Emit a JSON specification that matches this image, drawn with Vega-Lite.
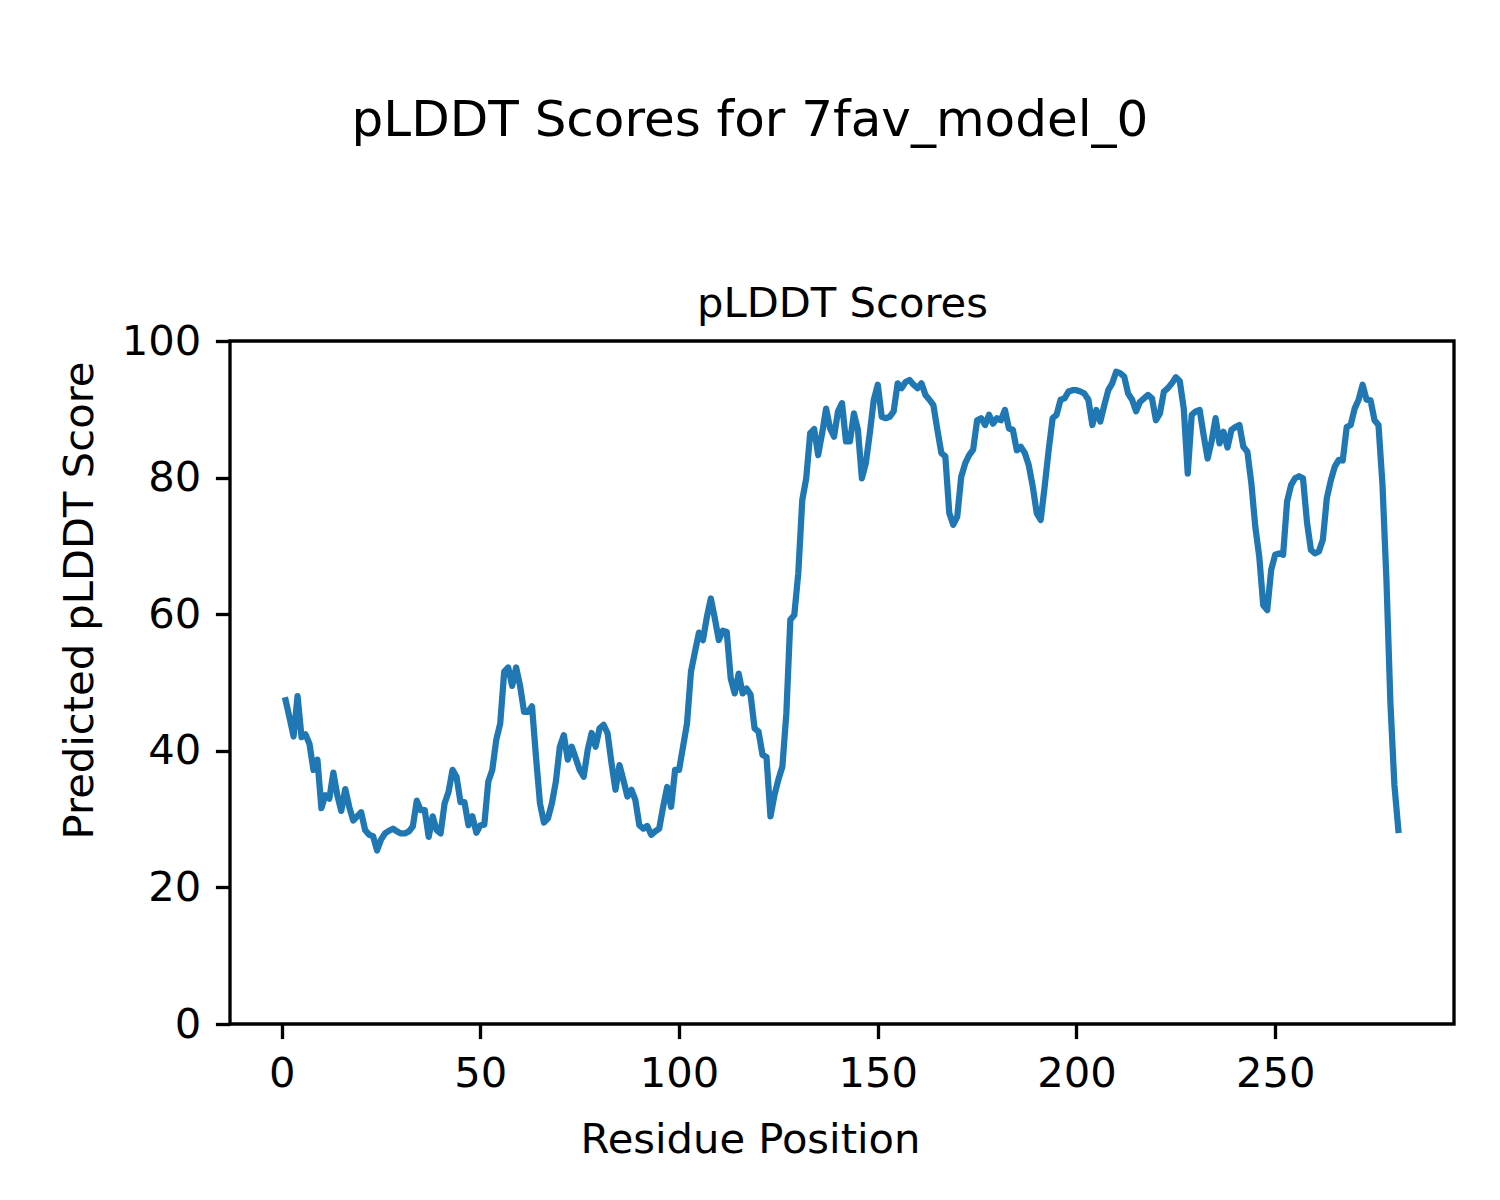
{
  "$schema": "https://vega.github.io/schema/vega-lite/v6.json",
  "width": 1224,
  "height": 683,
  "autosize": {"type": "none"},
  "padding": {"left": 230, "top": 341, "right": 46, "bottom": 176},
  "background": "white",
  "config": {
    "font": "DejaVu Sans",
    "view": {"stroke": "black", "strokeWidth": 3.33},
    "axis": {
      "grid": false,
      "domain": false,
      "labelFont": "DejaVu Sans",
      "labelFontSize": 41.67,
      "labelColor": "black",
      "tickColor": "black",
      "tickWidth": 3.33,
      "tickSize": 14.6,
      "labelPadding": 14.6,
      "titleFont": "DejaVu Sans",
      "titleFontSize": 41.67,
      "titleFontWeight": "normal",
      "titleColor": "black",
      "titleBaseline": "alphabetic",
      "titleAlign": "center"
    }
  },
  "title": {
    "text": "pLDDT Scores for 7fav_model_0",
    "anchor": "middle",
    "dx": -92,
    "fontSize": 50,
    "fontWeight": "normal",
    "font": "DejaVu Sans",
    "color": "black",
    "baseline": "alphabetic",
    "offset": 97
  },
  "data": {
    "values": [
      {"residue": 1, "plddt": 47.4}, {"residue": 2, "plddt": 44.8}, {"residue": 3, "plddt": 42.1}, {"residue": 4, "plddt": 48.0}, {"residue": 5, "plddt": 42.0},
      {"residue": 6, "plddt": 42.4}, {"residue": 7, "plddt": 41.0}, {"residue": 8, "plddt": 37.2}, {"residue": 9, "plddt": 38.7}, {"residue": 10, "plddt": 31.6},
      {"residue": 11, "plddt": 33.5}, {"residue": 12, "plddt": 33.0}, {"residue": 13, "plddt": 36.8}, {"residue": 14, "plddt": 33.5}, {"residue": 15, "plddt": 31.2},
      {"residue": 16, "plddt": 34.4}, {"residue": 17, "plddt": 31.8}, {"residue": 18, "plddt": 29.8}, {"residue": 19, "plddt": 30.4}, {"residue": 20, "plddt": 31.0},
      {"residue": 21, "plddt": 28.4}, {"residue": 22, "plddt": 27.7}, {"residue": 23, "plddt": 27.5}, {"residue": 24, "plddt": 25.4}, {"residue": 25, "plddt": 27.0},
      {"residue": 26, "plddt": 27.9}, {"residue": 27, "plddt": 28.3}, {"residue": 28, "plddt": 28.6}, {"residue": 29, "plddt": 28.2}, {"residue": 30, "plddt": 27.9},
      {"residue": 31, "plddt": 27.9}, {"residue": 32, "plddt": 28.2}, {"residue": 33, "plddt": 28.9}, {"residue": 34, "plddt": 32.7}, {"residue": 35, "plddt": 31.3},
      {"residue": 36, "plddt": 31.3}, {"residue": 37, "plddt": 27.4}, {"residue": 38, "plddt": 30.4}, {"residue": 39, "plddt": 28.4}, {"residue": 40, "plddt": 27.9},
      {"residue": 41, "plddt": 32.3}, {"residue": 42, "plddt": 34.0}, {"residue": 43, "plddt": 37.2}, {"residue": 44, "plddt": 36.2}, {"residue": 45, "plddt": 32.5},
      {"residue": 46, "plddt": 32.5}, {"residue": 47, "plddt": 29.1}, {"residue": 48, "plddt": 30.4}, {"residue": 49, "plddt": 28.0}, {"residue": 50, "plddt": 29.1},
      {"residue": 51, "plddt": 29.2}, {"residue": 52, "plddt": 35.5}, {"residue": 53, "plddt": 37.2}, {"residue": 54, "plddt": 41.6}, {"residue": 55, "plddt": 44.0},
      {"residue": 56, "plddt": 51.6}, {"residue": 57, "plddt": 52.2}, {"residue": 58, "plddt": 49.5}, {"residue": 59, "plddt": 52.2}, {"residue": 60, "plddt": 49.5},
      {"residue": 61, "plddt": 45.7}, {"residue": 62, "plddt": 45.7}, {"residue": 63, "plddt": 46.5}, {"residue": 64, "plddt": 39.1}, {"residue": 65, "plddt": 32.3},
      {"residue": 66, "plddt": 29.5}, {"residue": 67, "plddt": 30.1}, {"residue": 68, "plddt": 32.3}, {"residue": 69, "plddt": 35.5}, {"residue": 70, "plddt": 40.6},
      {"residue": 71, "plddt": 42.3}, {"residue": 72, "plddt": 38.7}, {"residue": 73, "plddt": 40.6}, {"residue": 74, "plddt": 38.9}, {"residue": 75, "plddt": 37.2},
      {"residue": 76, "plddt": 36.2}, {"residue": 77, "plddt": 40.1}, {"residue": 78, "plddt": 42.6}, {"residue": 79, "plddt": 40.6}, {"residue": 80, "plddt": 43.3},
      {"residue": 81, "plddt": 43.8}, {"residue": 82, "plddt": 42.6}, {"residue": 83, "plddt": 38.2}, {"residue": 84, "plddt": 34.3}, {"residue": 85, "plddt": 37.9},
      {"residue": 86, "plddt": 35.7}, {"residue": 87, "plddt": 33.3}, {"residue": 88, "plddt": 34.3}, {"residue": 89, "plddt": 32.8}, {"residue": 90, "plddt": 29.1},
      {"residue": 91, "plddt": 28.6}, {"residue": 92, "plddt": 29.0}, {"residue": 93, "plddt": 27.7}, {"residue": 94, "plddt": 28.2}, {"residue": 95, "plddt": 28.6},
      {"residue": 96, "plddt": 31.8}, {"residue": 97, "plddt": 34.7}, {"residue": 98, "plddt": 31.8}, {"residue": 99, "plddt": 37.2}, {"residue": 100, "plddt": 37.2},
      {"residue": 101, "plddt": 40.6}, {"residue": 102, "plddt": 44.0}, {"residue": 103, "plddt": 51.6}, {"residue": 104, "plddt": 54.5}, {"residue": 105, "plddt": 57.3},
      {"residue": 106, "plddt": 56.2}, {"residue": 107, "plddt": 59.6}, {"residue": 108, "plddt": 62.3}, {"residue": 109, "plddt": 59.4}, {"residue": 110, "plddt": 56.2},
      {"residue": 111, "plddt": 57.6}, {"residue": 112, "plddt": 57.4}, {"residue": 113, "plddt": 50.6}, {"residue": 114, "plddt": 48.4}, {"residue": 115, "plddt": 51.3},
      {"residue": 116, "plddt": 48.4}, {"residue": 117, "plddt": 49.1}, {"residue": 118, "plddt": 48.2}, {"residue": 119, "plddt": 43.3}, {"residue": 120, "plddt": 42.8},
      {"residue": 121, "plddt": 39.4}, {"residue": 122, "plddt": 39.1}, {"residue": 123, "plddt": 30.4}, {"residue": 124, "plddt": 33.5}, {"residue": 125, "plddt": 35.8},
      {"residue": 126, "plddt": 37.7}, {"residue": 127, "plddt": 45.5}, {"residue": 128, "plddt": 59.2}, {"residue": 129, "plddt": 59.9}, {"residue": 130, "plddt": 66.0},
      {"residue": 131, "plddt": 76.7}, {"residue": 132, "plddt": 79.9}, {"residue": 133, "plddt": 86.5}, {"residue": 134, "plddt": 87.1}, {"residue": 135, "plddt": 83.3},
      {"residue": 136, "plddt": 86.5}, {"residue": 137, "plddt": 90.1}, {"residue": 138, "plddt": 87.2}, {"residue": 139, "plddt": 86.0}, {"residue": 140, "plddt": 89.7},
      {"residue": 141, "plddt": 90.9}, {"residue": 142, "plddt": 85.3}, {"residue": 143, "plddt": 85.3}, {"residue": 144, "plddt": 89.4}, {"residue": 145, "plddt": 87.0},
      {"residue": 146, "plddt": 79.9}, {"residue": 147, "plddt": 82.1}, {"residue": 148, "plddt": 86.5}, {"residue": 149, "plddt": 91.4}, {"residue": 150, "plddt": 93.6},
      {"residue": 151, "plddt": 88.9}, {"residue": 152, "plddt": 88.7}, {"residue": 153, "plddt": 88.9}, {"residue": 154, "plddt": 89.7}, {"residue": 155, "plddt": 93.8},
      {"residue": 156, "plddt": 93.1}, {"residue": 157, "plddt": 94.0}, {"residue": 158, "plddt": 94.3}, {"residue": 159, "plddt": 93.6}, {"residue": 160, "plddt": 93.1},
      {"residue": 161, "plddt": 93.8}, {"residue": 162, "plddt": 92.1}, {"residue": 163, "plddt": 91.4}, {"residue": 164, "plddt": 90.6}, {"residue": 165, "plddt": 87.0},
      {"residue": 166, "plddt": 83.6}, {"residue": 167, "plddt": 83.1}, {"residue": 168, "plddt": 74.8}, {"residue": 169, "plddt": 73.1}, {"residue": 170, "plddt": 74.3},
      {"residue": 171, "plddt": 80.1}, {"residue": 172, "plddt": 82.1}, {"residue": 173, "plddt": 83.3}, {"residue": 174, "plddt": 84.1}, {"residue": 175, "plddt": 88.4},
      {"residue": 176, "plddt": 88.7}, {"residue": 177, "plddt": 87.7}, {"residue": 178, "plddt": 89.2}, {"residue": 179, "plddt": 87.9}, {"residue": 180, "plddt": 88.7},
      {"residue": 181, "plddt": 88.4}, {"residue": 182, "plddt": 89.9}, {"residue": 183, "plddt": 87.2}, {"residue": 184, "plddt": 87.0}, {"residue": 185, "plddt": 84.0},
      {"residue": 186, "plddt": 84.5}, {"residue": 187, "plddt": 83.6}, {"residue": 188, "plddt": 81.8}, {"residue": 189, "plddt": 78.7}, {"residue": 190, "plddt": 74.8},
      {"residue": 191, "plddt": 73.8}, {"residue": 192, "plddt": 78.7}, {"residue": 193, "plddt": 84.0}, {"residue": 194, "plddt": 88.7}, {"residue": 195, "plddt": 89.2},
      {"residue": 196, "plddt": 91.4}, {"residue": 197, "plddt": 91.6}, {"residue": 198, "plddt": 92.6}, {"residue": 199, "plddt": 92.8}, {"residue": 200, "plddt": 92.8},
      {"residue": 201, "plddt": 92.6}, {"residue": 202, "plddt": 92.3}, {"residue": 203, "plddt": 91.4}, {"residue": 204, "plddt": 87.7}, {"residue": 205, "plddt": 89.9},
      {"residue": 206, "plddt": 88.2}, {"residue": 207, "plddt": 90.6}, {"residue": 208, "plddt": 92.8}, {"residue": 209, "plddt": 93.8}, {"residue": 210, "plddt": 95.5},
      {"residue": 211, "plddt": 95.3}, {"residue": 212, "plddt": 94.8}, {"residue": 213, "plddt": 92.3}, {"residue": 214, "plddt": 91.4}, {"residue": 215, "plddt": 89.7},
      {"residue": 216, "plddt": 91.1}, {"residue": 217, "plddt": 91.6}, {"residue": 218, "plddt": 92.1}, {"residue": 219, "plddt": 91.6}, {"residue": 220, "plddt": 88.4},
      {"residue": 221, "plddt": 89.4}, {"residue": 222, "plddt": 92.6}, {"residue": 223, "plddt": 93.1}, {"residue": 224, "plddt": 93.8}, {"residue": 225, "plddt": 94.7},
      {"residue": 226, "plddt": 94.1}, {"residue": 227, "plddt": 90.1}, {"residue": 228, "plddt": 80.6}, {"residue": 229, "plddt": 89.2}, {"residue": 230, "plddt": 89.7},
      {"residue": 231, "plddt": 89.9}, {"residue": 232, "plddt": 86.2}, {"residue": 233, "plddt": 82.8}, {"residue": 234, "plddt": 85.3}, {"residue": 235, "plddt": 88.7},
      {"residue": 236, "plddt": 85.0}, {"residue": 237, "plddt": 86.7}, {"residue": 238, "plddt": 84.4}, {"residue": 239, "plddt": 87.0}, {"residue": 240, "plddt": 87.4},
      {"residue": 241, "plddt": 87.7}, {"residue": 242, "plddt": 84.5}, {"residue": 243, "plddt": 83.8}, {"residue": 244, "plddt": 79.2}, {"residue": 245, "plddt": 72.8},
      {"residue": 246, "plddt": 68.4}, {"residue": 247, "plddt": 61.3}, {"residue": 248, "plddt": 60.6}, {"residue": 249, "plddt": 66.5}, {"residue": 250, "plddt": 68.7},
      {"residue": 251, "plddt": 68.9}, {"residue": 252, "plddt": 68.7}, {"residue": 253, "plddt": 76.5}, {"residue": 254, "plddt": 78.9}, {"residue": 255, "plddt": 79.9},
      {"residue": 256, "plddt": 80.2}, {"residue": 257, "plddt": 79.9}, {"residue": 258, "plddt": 73.5}, {"residue": 259, "plddt": 69.4}, {"residue": 260, "plddt": 68.9},
      {"residue": 261, "plddt": 69.2}, {"residue": 262, "plddt": 70.9}, {"residue": 263, "plddt": 77.0}, {"residue": 264, "plddt": 79.6}, {"residue": 265, "plddt": 81.6},
      {"residue": 266, "plddt": 82.6}, {"residue": 267, "plddt": 82.5}, {"residue": 268, "plddt": 87.4}, {"residue": 269, "plddt": 87.7}, {"residue": 270, "plddt": 90.1},
      {"residue": 271, "plddt": 91.4}, {"residue": 272, "plddt": 93.6}, {"residue": 273, "plddt": 91.4}, {"residue": 274, "plddt": 91.3}, {"residue": 275, "plddt": 88.4},
      {"residue": 276, "plddt": 87.7}, {"residue": 277, "plddt": 79.0}, {"residue": 278, "plddt": 65.0}, {"residue": 279, "plddt": 47.0}, {"residue": 280, "plddt": 35.0},
      {"residue": 281, "plddt": 28.4}
    ]
  },
  "layer": [
    {
      "mark": {"type": "line", "color": "#1f77b4", "strokeWidth": 6.25, "strokeCap": "square", "strokeJoin": "round"},
      "encoding": {
        "x": {
          "field": "residue", "type": "quantitative",
          "scale": {"domain": [-13, 295], "nice": false, "zero": false},
          "axis": {"orient": "bottom", "values": [0, 50, 100, 150, 200, 250], "title": "Residue Position", "titleX": 520, "titleY": 128}
        },
        "y": {
          "field": "plddt", "type": "quantitative",
          "scale": {"domain": [0, 100], "nice": false, "zero": true},
          "axis": {"values": [0, 20, 40, 60, 80, 100], "title": "Predicted pLDDT Score", "titleX": -138, "titleY": 259}
        }
      }
    },
    {
      "mark": {"type": "line", "opacity": 0},
      "encoding": {
        "x": {
          "field": "residue", "type": "quantitative",
          "axis": {"orient": "top", "labels": false, "ticks": false, "domain": false, "title": "pLDDT Scores", "titleX": 612, "titleY": -25}
        },
        "y": {"field": "plddt", "type": "quantitative"}
      }
    }
  ],
  "resolve": {"axis": {"x": "independent"}}
}
